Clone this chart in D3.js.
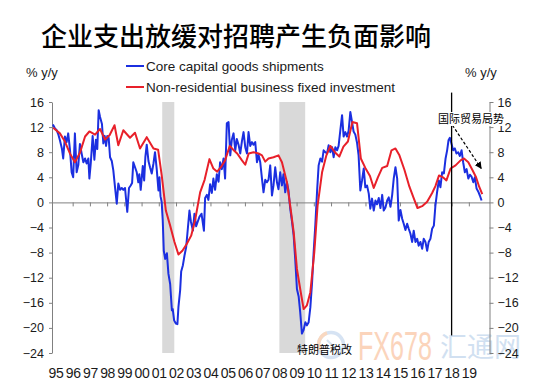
<!DOCTYPE html>
<html>
<head>
<meta charset="utf-8">
<script src="https://cdn.jsdelivr.net/npm/d3@7"></script>
<style>
	body { margin: 0; background: #fff; }
	svg { display: block; }
</style>
</head>
<body>
<svg class="display"></svg>
<script>
//core capital goods shipments, monthly-ish [year, % y/y]
const coreShipments = [
	[1994.85,12.4],[1994.97,11.8],[1995.07,11.5],[1995.16,10.9],[1995.26,9.9],[1995.38,8.5],[1995.45,7.0],[1995.55,10.5],[1995.65,9.6],[1995.74,11.0],[1995.84,8.5],[1995.94,4.8],
	[1996.03,4.0],[1996.13,11.0],[1996.23,4.8],[1996.33,6.0],[1996.42,9.3],[1996.52,7.8],[1996.62,6.4],[1996.72,7.0],[1996.81,6.2],[1996.91,7.0],[1996.97,3.8],
	[1997.05,6.2],[1997.16,10.6],[1997.26,6.8],[1997.35,10.0],[1997.43,8.5],[1997.51,14.7],[1997.59,13.6],[1997.7,12.5],[1997.78,9.4],[1997.86,10.6],[1997.94,9.0],
	[1998.01,10.6],[1998.09,10.3],[1998.17,7.2],[1998.27,6.6],[1998.36,5.1],[1998.46,2.4],[1998.56,-0.2],[1998.65,3.0],[1998.75,2.0],[1998.85,2.3],[1998.94,2.0],
	[1999.04,2.3],[1999.1,0.5],[1999.17,-1.5],[1999.27,2.3],[1999.37,2.7],[1999.45,3.1],[1999.52,6.4],[1999.62,5.6],[1999.72,4.8],[1999.81,3.2],[1999.87,4.5],[1999.95,2.0],
	[2000.07,5.8],[2000.15,3.5],[2000.22,7.2],[2000.3,9.2],[2000.4,6.6],[2000.49,5.6],[2000.59,4.6],[2000.69,6.2],[2000.78,8.0],[2000.88,5.3],[2000.98,1.9],
	[2001.04,4.0],[2001.1,1.0],[2001.17,0.0],[2001.23,-2.9],[2001.29,-7.7],[2001.37,-9.0],[2001.47,-8.1],[2001.56,-11.4],[2001.66,-13.0],[2001.76,-17.2],[2001.81,-17.0],[2001.89,-18.8],[2001.99,-19.3],
	[2002.08,-19.4],[2002.14,-16.7],[2002.24,-14.0],[2002.3,-11.0],[2002.4,-10.0],[2002.49,-8.5],[2002.59,-7.1],[2002.66,-5.0],[2002.78,-1.3],[2002.86,-3.0],[2002.98,-4.5],
	[2003.07,-1.8],[2003.17,-3.8],[2003.27,-3.0],[2003.36,-2.3],[2003.48,-1.8],[2003.62,-4.5],[2003.69,0.7],[2003.79,1.2],[2003.88,0.4],[2003.98,2.9],
	[2004.08,1.5],[2004.17,3.8],[2004.27,2.0],[2004.37,4.5],[2004.47,3.3],[2004.56,6.4],[2004.66,5.3],[2004.76,7.0],[2004.85,3.8],[2004.95,12.6],
	[2005.05,12.8],[2005.15,7.5],[2005.24,10.0],[2005.34,11.0],[2005.44,8.3],[2005.53,10.1],[2005.63,9.2],[2005.73,7.8],[2005.83,9.8],[2005.92,11.2],
	[2006.02,8.8],[2006.12,7.8],[2006.21,11.2],[2006.31,9.0],[2006.41,9.6],[2006.5,9.2],[2006.6,9.6],[2006.7,6.4],[2006.79,7.6],[2006.89,6.4],[2006.99,3.8],
	[2007.08,1.6],[2007.18,3.6],[2007.28,3.2],[2007.37,3.6],[2007.47,5.9],[2007.57,1.1],[2007.66,2.7],[2007.76,5.6],[2007.86,3.2],[2007.95,2.1],
	[2008.05,4.8],[2008.15,2.7],[2008.24,4.5],[2008.34,1.6],[2008.44,3.2],[2008.53,1.9],[2008.63,-1.0],[2008.73,-3.0],[2008.83,-5.3],[2008.92,-9.0],
	[2009.02,-13.8],[2009.12,-15.0],[2009.21,-17.5],[2009.31,-20.9],[2009.41,-20.3],[2009.51,-19.1],[2009.6,-19.6],[2009.7,-19.1],[2009.8,-16.7],[2009.9,-12.7],[2009.99,-8.0],
	[2010.09,-3.5],[2010.19,1.8],[2010.28,5.9],[2010.38,7.0],[2010.48,6.5],[2010.57,8.3],[2010.67,8.0],[2010.77,7.8],[2010.86,9.1],[2010.96,8.0],
	[2011.06,8.8],[2011.15,7.2],[2011.25,8.8],[2011.35,8.3],[2011.44,9.0],[2011.54,11.5],[2011.64,13.9],[2011.73,10.5],[2011.83,11.2],[2011.93,10.5],
	[2012.02,11.4],[2012.12,14.4],[2012.22,12.8],[2012.31,11.3],[2012.41,10.8],[2012.51,9.5],[2012.6,7.5],[2012.7,1.9],[2012.8,3.5],[2012.9,5.4],[2012.99,2.4],
	[2013.09,2.7],[2013.19,1.4],[2013.28,-1.0],[2013.38,0.6],[2013.48,-1.3],[2013.58,0.3],[2013.67,-0.3],[2013.77,0.7],[2013.87,-0.9],[2013.97,1.2],
	[2014.06,-1.3],[2014.16,-0.8],[2014.26,0.3],[2014.35,0.8],[2014.45,-0.7],[2014.55,1.2],[2014.64,3.8],[2014.74,5.6],[2014.84,3.8],[2014.93,-2.9],
	[2015.03,-1.2],[2015.13,-2.6],[2015.22,-3.4],[2015.32,-4.4],[2015.42,-3.4],[2015.51,-4.2],[2015.61,-5.0],[2015.71,-6.3],[2015.8,-4.5],[2015.9,-6.3],
	[2016.0,-5.8],[2016.09,-6.9],[2016.19,-6.3],[2016.29,-7.4],[2016.38,-5.8],[2016.48,-6.3],[2016.58,-7.7],[2016.67,-6.3],[2016.77,-5.8],[2016.87,-4.2],[2016.97,-3.7],
	[2017.06,-0.5],[2017.16,1.7],[2017.26,3.5],[2017.35,2.4],[2017.45,4.8],[2017.55,4.6],[2017.65,7.0],[2017.74,8.3],[2017.82,9.9],[2017.9,10.3],[2017.99,9.4],
	[2018.09,8.3],[2018.19,8.6],[2018.28,7.8],[2018.38,8.0],[2018.48,7.4],[2018.58,8.3],[2018.67,6.4],[2018.77,4.8],[2018.87,5.3],[2018.97,3.8],
	[2019.06,4.4],[2019.16,4.1],[2019.26,3.2],[2019.35,4.0],[2019.45,2.2],[2019.55,1.7],[2019.64,1.1],[2019.74,0.3]
];

//non-residential business fixed investment, quarterly [year, % y/y]
const nonResInvestment = [
	[1994.87,11.9],[1995.26,11.0],[1995.55,9.7],[1995.84,7.8],[1996.13,6.4],[1996.42,7.9],[1996.72,10.5],[1996.97,11.3],
	[1997.3,10.8],[1997.59,11.7],[1997.88,10.0],[1998.14,10.7],[1998.43,12.3],[1998.65,9.1],[1998.94,11.5],[1999.33,10.3],
	[1999.62,11.1],[1999.91,8.6],[2000.3,10.4],[2000.69,8.6],[2000.96,8.4],[2001.17,4.3],[2001.41,-1.3],[2001.66,-3.7],
	[2001.91,-6.3],[2002.14,-8.3],[2002.37,-7.7],[2002.63,-6.6],[2002.88,-5.3],[2003.11,-2.8],[2003.4,1.6],[2003.66,3.6],
	[2003.94,6.9],[2004.17,5.4],[2004.39,4.9],[2004.65,5.8],[2004.85,6.7],[2005.12,9.0],[2005.32,8.4],[2005.55,7.8],
	[2005.83,6.7],[2006.02,6.0],[2006.22,7.8],[2006.5,8.0],[2006.79,7.8],[2006.99,7.5],[2007.18,6.5],[2007.37,7.0],
	[2007.66,7.2],[2007.95,7.5],[2008.15,6.4],[2008.44,3.2],[2008.63,-0.5],[2008.83,-4.7],[2009.02,-10.6],[2009.21,-13.8],
	[2009.41,-17.0],[2009.6,-16.4],[2009.8,-14.3],[2010.03,-7.9],[2010.22,-0.5],[2010.48,4.8],[2010.73,7.5],[2010.96,9.0],
	[2011.25,7.9],[2011.48,7.3],[2011.72,8.9],[2011.98,9.7],[2012.24,12.8],[2012.51,12.6],[2012.73,7.0],[2012.99,5.5],
	[2013.26,4.2],[2013.48,2.3],[2013.72,4.0],[2013.97,5.5],[2014.26,5.8],[2014.51,8.3],[2014.74,8.6],[2014.97,7.5],
	[2015.26,5.2],[2015.55,2.5],[2015.81,0.6],[2016.02,-0.9],[2016.29,-0.6],[2016.58,0.1],[2016.87,1.5],[2017.06,2.6],
	[2017.27,4.3],[2017.5,4.0],[2017.7,3.5],[2017.94,5.4],[2018.23,5.9],[2018.52,6.7],[2018.72,7.0],[2018.97,6.4],
	[2019.2,5.2],[2019.42,4.0],[2019.6,2.5],[2019.78,1.3]
];

//recession shading [start, end]
const recessions = [[2001.2, 2001.9], [2008.0, 2009.5]];

//axis ticks and labels
const yTicks = [-24, -20, -16, -12, -8, -4, 0, 4, 8, 12, 16];
const yearTicks = d3.range(1996, 2020);
const yearLabels = ['95','96','97','98','99','00','01','02','03','04','05','06','07','08','09','10','11','12','13','14','15','16','17','18','19'];

//annotations
const tradeLineYear = 2018.0,
	tradeLineRange = [17.5, -21.2],
	tradeArrow = [[2018.05, 12.3], [2019.72, 5.4]];

const totalWidth = 538,
	totalHeight = 382;

const svg = d3
	.select('.display')
	.attr('width', totalWidth)
	.attr('height', totalHeight)
	.style('font-family', 'Arial, "Liberation Sans", sans-serif');

const xScale = d3.scaleLinear().domain([1994.8, 2020.2]).range([52, 489.5]);
const yScale = d3.scaleLinear().domain([-24, 16]).range([353, 102]);

//watermark (sits under everything)
const wm = svg.append('g').attr('opacity', 0.85);
wm.append('circle')
	.attr('cx', 331).attr('cy', 345).attr('r', 12.5)
	.attr('fill', 'none').attr('stroke', '#cfdff1').attr('stroke-width', 3.5);
wm.append('path')
	.attr('d', 'M320,350 A12,12 0 0 1 327,333')
	.attr('fill', 'none').attr('stroke', '#f9d2b6').attr('stroke-width', 3.5);
wm.append('path')
	.attr('d', 'M327,340 L335,348 L330,352')
	.attr('fill', 'none').attr('stroke', '#cfdff1').attr('stroke-width', 2);
wm.append('text')
	.attr('x', 358).attr('y', 360)
	.attr('textLength', 74).attr('lengthAdjust', 'spacingAndGlyphs')
	.style('font-size', '41px')
	.attr('fill', '#fbcdb0')
	.text('FX678');
wm.append('text')
	.attr('x', 440).attr('y', 357)
	.style('font-family', '"Noto Sans CJK SC"')
	.style('font-size', '27px')
	.attr('fill', '#c9dbef')
	.text('汇通网');

//recession bands
svg.append('g')
	.selectAll('rect')
	.data(recessions)
	.enter()
	.append('rect')
	.attr('x', (d) => xScale(d[0]))
	.attr('width', (d) => xScale(d[1]) - xScale(d[0]))
	.attr('y', yScale(16))
	.attr('height', yScale(-24) - yScale(16))
	.attr('fill', '#d9d9d9');

//left and right axes
const yAxisLeft = d3.axisLeft(yScale).tickValues(yTicks).tickSize(3).tickSizeOuter(0).tickPadding(5);
const yAxisRight = d3.axisRight(yScale).tickValues(yTicks).tickSize(4).tickSizeOuter(0).tickPadding(4);

const gLeft = svg.append('g').attr('transform', 'translate(' + xScale.range()[0] + ',0)').call(yAxisLeft);
const gRight = svg.append('g').attr('transform', 'translate(' + xScale.range()[1] + ',0)').call(yAxisRight);

[gLeft, gRight].forEach((g) => {
	g.select('.domain').attr('stroke', '#808080');
	g.selectAll('.tick line').attr('stroke', '#808080');
	g.selectAll('.tick text').attr('fill', '#1a1a1a').style('font-size', '12.5px');
	g.attr('font-family', null).attr('font-size', null);
});

//zero line with year ticks
const xAxis = d3.axisBottom(xScale).tickValues(yearTicks).tickSize(4).tickSizeOuter(0).tickFormat('');
const gZero = svg.append('g').attr('transform', 'translate(0,' + yScale(0) + ')').call(xAxis);
gZero.select('.domain').attr('stroke', '#808080');
gZero.selectAll('.tick line').attr('stroke', '#808080');

//year labels along the bottom
svg.append('g')
	.selectAll('text')
	.data(yearLabels)
	.enter()
	.append('text')
	.attr('x', (d, i) => xScale(1995 + i) + 0.5)
	.attr('y', 378)
	.attr('text-anchor', 'middle')
	.style('font-size', '14px')
	.style('letter-spacing', '-0.3px')
	.attr('fill', '#1a1a1a')
	.text((d) => d);

//series lines
const line = d3
	.line()
	.x((d) => xScale(d[0]))
	.y((d) => yScale(d[1]));

svg.append('path')
	.datum(coreShipments)
	.attr('d', line)
	.attr('fill', 'none')
	.attr('stroke', '#1b2fe0')
	.attr('stroke-width', 2)
	.attr('stroke-linejoin', 'round');

svg.append('path')
	.datum(nonResInvestment)
	.attr('d', line)
	.attr('fill', 'none')
	.attr('stroke', '#e8202a')
	.attr('stroke-width', 2)
	.attr('stroke-linejoin', 'round');

//trade tension marker
svg.append('line')
	.attr('x1', xScale(tradeLineYear)).attr('x2', xScale(tradeLineYear))
	.attr('y1', yScale(tradeLineRange[0])).attr('y2', yScale(tradeLineRange[1]))
	.attr('stroke', '#000').attr('stroke-width', 1.3);

svg.append('defs')
	.append('marker')
	.attr('id', 'arrow')
	.attr('viewBox', '0 0 10 10')
	.attr('refX', 9).attr('refY', 5)
	.attr('markerWidth', 7).attr('markerHeight', 7)
	.attr('markerUnits', 'userSpaceOnUse')
	.attr('orient', 'auto')
	.append('path')
	.attr('d', 'M0,0 L10,5 L0,10 z')
	.attr('fill', '#000');

svg.append('line')
	.attr('x1', xScale(tradeArrow[0][0])).attr('y1', yScale(tradeArrow[0][1]))
	.attr('x2', xScale(tradeArrow[1][0])).attr('y2', yScale(tradeArrow[1][1]))
	.attr('stroke', '#000').attr('stroke-width', 1.2)
	.attr('stroke-dasharray', '3,2')
	.attr('marker-end', 'url(#arrow)');

//white box behind the trade label hides the axis line there
svg.append('rect')
	.attr('x', 437).attr('y', 112)
	.attr('width', 68).attr('height', 14)
	.attr('fill', '#fff');

svg.append('text')
	.attr('x', 438).attr('y', 122.5)
	.style('font-family', '"Noto Sans CJK SC"')
	.style('font-size', '11px')
	.attr('fill', '#000')
	.text('国际贸易局势');

svg.append('text')
	.attr('x', 297).attr('y', 354)
	.style('font-family', '"Noto Sans CJK SC"')
	.style('font-size', '11px')
	.attr('fill', '#000')
	.text('特朗普税改');

//title
svg.append('text')
	.attr('x', 41).attr('y', 46)
	.style('font-family', '"Noto Sans CJK SC"')
	.style('font-size', '26px')
	.style('font-weight', 500)
	.attr('fill', '#000')
	.text('企业支出放缓对招聘产生负面影响');

//unit labels
svg.append('text').attr('x', 26).attr('y', 77).style('font-size', '13px').attr('fill', '#1a1a1a').text('% y/y');
svg.append('text').attr('x', 465).attr('y', 77).style('font-size', '13px').attr('fill', '#1a1a1a').text('% y/y');

//legend
const legendItems = [
	{ name: 'Core capital goods shipments', color: '#1b2fe0', y: 66 },
	{ name: 'Non-residential business fixed investment', color: '#e8202a', y: 87 }
];
const legend = svg.append('g').selectAll('g').data(legendItems).enter().append('g');
legend.append('line')
	.attr('x1', 126).attr('x2', 144)
	.attr('y1', (d) => d.y).attr('y2', (d) => d.y)
	.attr('stroke', (d) => d.color).attr('stroke-width', 2);
legend.append('text')
	.attr('x', 146).attr('y', (d) => d.y + 5)
	.style('font-size', '13.5px')
	.attr('fill', '#1a1a1a')
	.text((d) => d.name);
</script>
</body>
</html>
